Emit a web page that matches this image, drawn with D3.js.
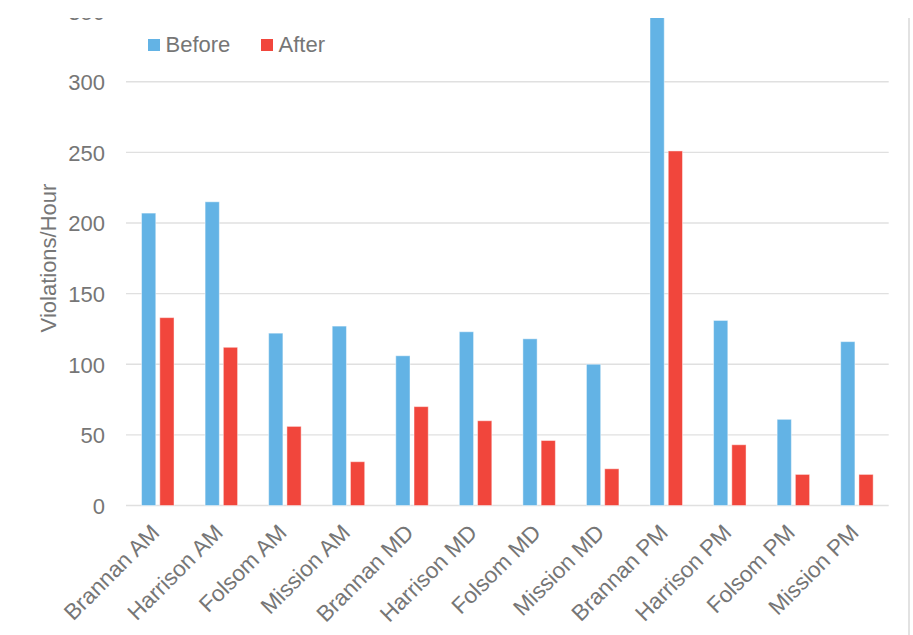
<!DOCTYPE html>
<html>
<head>
<meta charset="utf-8">
<script src="https://cdn.jsdelivr.net/npm/d3@7/dist/d3.min.js"></script>
<style>
  html, body { margin: 0; padding: 0; background: #fff; }
  svg { display: block; font-family: "Liberation Sans", Arial, sans-serif; }
</style>
</head>
<body>
<svg id="chart" width="913" height="635"></svg>
<script>
// Violations per hour at each approach and time period, before and after
const categories = ["Brannan AM", "Harrison AM", "Folsom AM", "Mission AM",
  "Brannan MD", "Harrison MD", "Folsom MD", "Mission MD",
  "Brannan PM", "Harrison PM", "Folsom PM", "Mission PM"];
const seriesNames = ["Before", "After"];
const beforeValues = [207, 215, 122, 127, 106, 123, 118, 100, 358, 131, 61, 116];
const afterValues  = [133, 112, 56, 31, 70, 60, 46, 26, 251, 43, 22, 22];
const yTicks = [0, 50, 100, 150, 200, 250, 300, 350];

const colors = { Before: "#63b3e5", After: "#f1463c" };
const textColor = "#767676";

const svg = d3.select("#chart");
const W = 913, H = 635;

const x0 = d3.scaleBand().domain(categories).range([126, 888.7]).paddingInner(0.489).paddingOuter(0.2445);
const x1 = d3.scaleBand().domain(seriesNames).range([0, x0.bandwidth()]).paddingInner(0.22);
const y = d3.scaleLinear().domain([0, 350]).range([505.5, 11.1]);

// visible frame: everything above y=18 is cut away
svg.append("defs").append("clipPath").attr("id", "frame")
  .append("rect").attr("x", 0).attr("y", 18).attr("width", W).attr("height", H - 18);

const g = svg.append("g").attr("clip-path", "url(#frame)");

// horizontal gridlines
g.append("g").selectAll("line").data(yTicks).join("line")
  .attr("x1", 126).attr("x2", 888.7)
  .attr("y1", d => y(d)).attr("y2", d => y(d))
  .attr("stroke", "#e0e0e0").attr("stroke-width", 1.4);

// y axis tick labels
const yAxis = d3.axisLeft(y).tickValues(yTicks).tickSize(0).tickPadding(0);
const ya = g.append("g").attr("transform", "translate(105,0)").call(yAxis);
ya.select(".domain").remove();
ya.selectAll("text").attr("fill", textColor).attr("font-size", 22)
  .attr("font-family", "Liberation Sans, Arial, sans-serif").attr("dy", "0.36em");

// bars
const rows = categories.map((c, i) => ({ c, Before: beforeValues[i], After: afterValues[i] }));
const groups = g.append("g").selectAll("g").data(rows).join("g")
  .attr("transform", d => `translate(${x0(d.c)},0)`);
groups.selectAll("rect").data(d => seriesNames.map(k => ({ k, v: d[k] }))).join("rect")
  .attr("x", d => x1(d.k))
  .attr("width", x1.bandwidth())
  .attr("y", d => y(d.v))
  .attr("height", d => y(0) - y(d.v))
  .attr("fill", d => colors[d.k])
  .attr("stroke", "rgba(255,255,255,0.45)")
  .attr("stroke-width", 1);

// category labels, rotated
const xAxis = d3.axisBottom(x0).tickSize(0).tickPadding(0);
const xa = g.append("g").attr("transform", "translate(0,505.5)").call(xAxis);
xa.select(".domain").remove();
xa.selectAll("text")
  .attr("fill", textColor).attr("font-size", 22.5)
  .attr("font-family", "Liberation Sans, Arial, sans-serif")
  .attr("text-anchor", "end")
  .attr("dy", null).attr("y", 0)
  .attr("transform", "translate(3,28.5) rotate(-45)");

// y axis title
g.append("text")
  .attr("transform", "translate(56,258) rotate(-90)")
  .attr("text-anchor", "middle")
  .attr("fill", textColor).attr("font-size", 22)
  .text("Violations/Hour");

// legend
const legend = g.append("g");
const legendX = { Before: 148, After: 261 };
seriesNames.forEach(k => {
  legend.append("rect").attr("x", legendX[k]).attr("y", 39).attr("width", 12).attr("height", 12)
    .attr("fill", colors[k]);
  legend.append("text").attr("x", legendX[k] + 17.5).attr("y", 52)
    .attr("fill", textColor).attr("font-size", 22).text(k);
});

// right edge of the chart frame
svg.append("line").attr("x1", 909).attr("x2", 909).attr("y1", 18).attr("y2", H)
  .attr("stroke", "#d9d9d9").attr("stroke-width", 1.5);
</script>
</body>
</html>
